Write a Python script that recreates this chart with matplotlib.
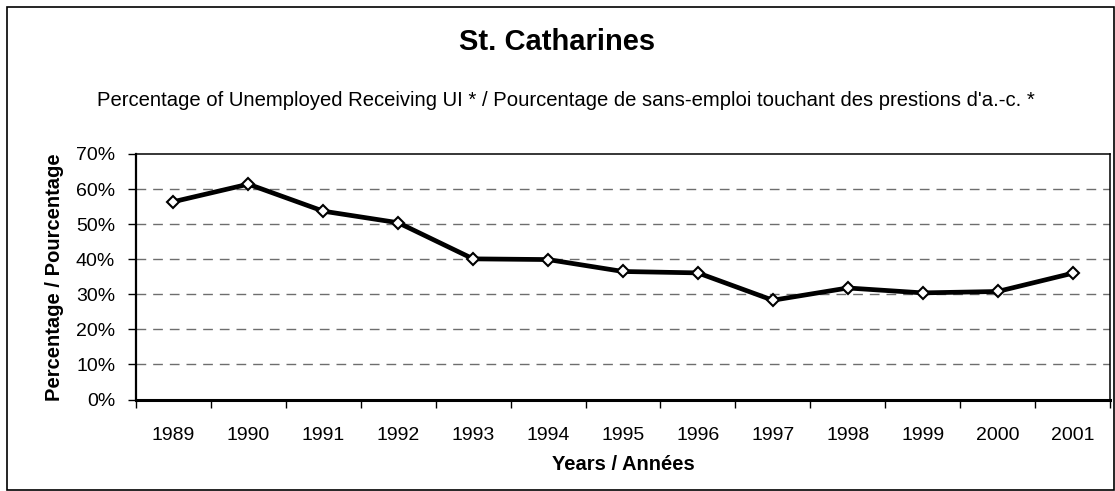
import matplotlib
matplotlib.use("Agg")
import matplotlib.pyplot as plt
from matplotlib.patches import Rectangle
from matplotlib.ticker import FixedLocator, PercentFormatter

years = ["1989", "1990", "1991", "1992", "1993", "1994", "1995",
         "1996", "1997", "1998", "1999", "2000", "2001"]
pct_receiving_ui = [56.4, 61.4, 53.7, 50.4, 40.1, 39.9, 36.5,
                    36.1, 28.3, 31.8, 30.4, 30.8, 36.0]
y_ticks = [0, 10, 20, 30, 40, 50, 60, 70]

title = "St. Catharines"
subtitle = ("Percentage of Unemployed Receiving UI * / Pourcentage de "
            "sans-emploi touchant des prestions d'a.-c. *")
x_label = "Years / Années"
y_label = "Percentage / Pourcentage"

plt.rcParams['font.family'] = ['Liberation Sans', 'DejaVu Sans']

W, H = 1115, 491
fig = plt.figure(figsize=(W / 100, H / 100), dpi=100)
fig.patch.set_facecolor("white")

ax = fig.add_axes([136 / W, 1 - 399.5 / H, (1110 - 136) / W, (399.5 - 154) / H])

x = list(range(len(years)))
ax.plot(x, pct_receiving_ui, color="black", lw=3.4, marker="D", ms=6.5,
        mfc="white", mec="black", mew=1.5, zorder=5, clip_on=False)

ax.set_xlim(-0.5, len(years) - 0.5)
ax.set_ylim(0, 70)
ax.set_yticks(y_ticks)
ax.yaxis.set_major_formatter(PercentFormatter(decimals=0))
ax.set_xticks(x)
ax.set_xticklabels(years)
ax.xaxis.set_minor_locator(FixedLocator([i - 0.5 for i in range(len(years) + 1)]))
ax.tick_params(axis="x", which="major", length=0, pad=20, labelsize=14)
ax.tick_params(axis="x", which="minor", length=6, width=1, direction="out")
ax.tick_params(axis="y", which="major", length=6, width=1, direction="out",
               pad=9, labelsize=14)

for v in y_ticks[1:-1]:
    ax.axhline(v, color="#6e6e6e", lw=1, dashes=(7, 5), zorder=1)

ax.spines["left"].set_linewidth(1.6)
ax.spines["bottom"].set_linewidth(2.2)
ax.spines["top"].set_linewidth(1.1)
ax.spines["right"].set_linewidth(1.1)
for s in ax.spines.values():
    s.set_color("black")

fig.text(0.5, 1 - 42 / H, title, ha="center", va="center",
         fontsize=21, fontweight="bold")
fig.text(566 / W, 1 - 100 / H, subtitle, ha="center", va="center", fontsize=14.6)
fig.text(55 / W, (1 - 399.5 / H + 1 - 154 / H) / 2, y_label, rotation=90,
         ha="center", va="center", fontsize=14.5, fontweight="bold")
fig.text(623 / W, 1 - 465 / H, x_label, ha="center", va="center",
         fontsize=14.5, fontweight="bold")

fig.add_artist(Rectangle((6.5 / W, 1 - 490 / H), (1114 - 6.5) / W, (490 - 6.5) / H,
                         transform=fig.transFigure, fill=False,
                         edgecolor="black", lw=1.2))

fig.savefig("out.png", dpi=100)
